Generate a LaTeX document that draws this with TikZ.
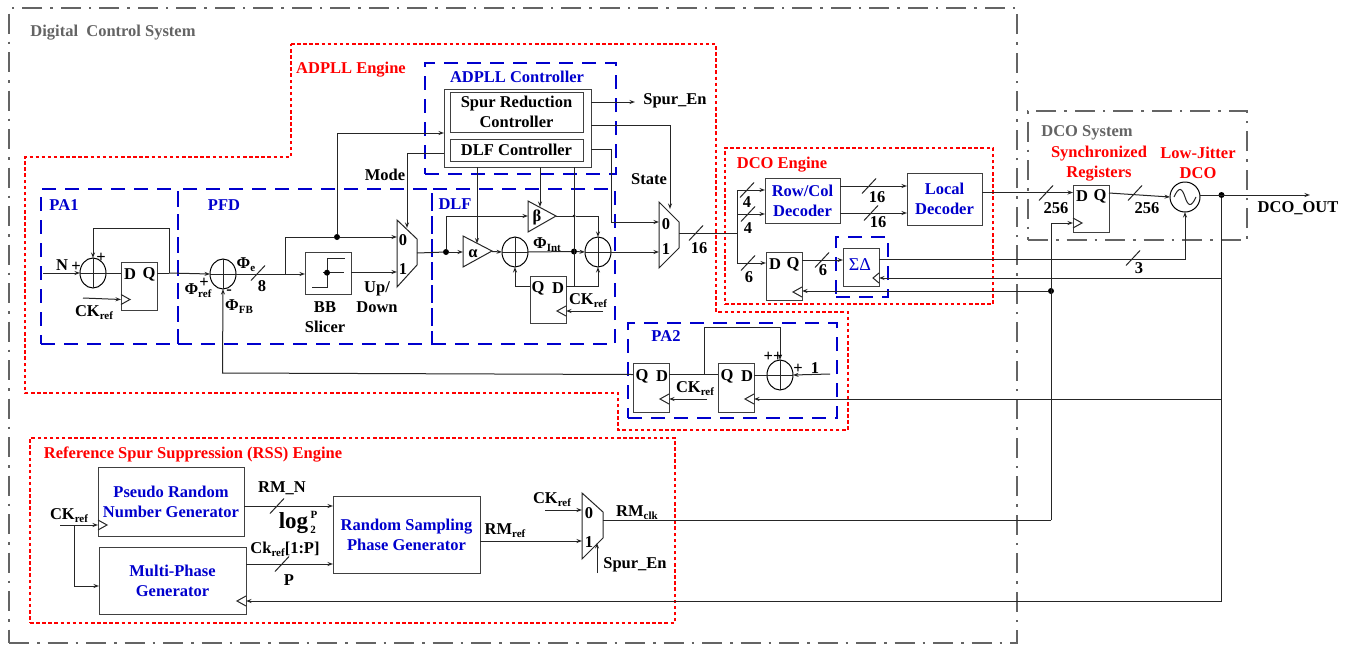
\documentclass[tikz,border=0pt]{standalone}
\usepackage{fontspec}
\setmainfont{Liberation Serif}
\usetikzlibrary{arrows.meta,shapes.geometric,calc}
\definecolor{rd}{RGB}{255,0,0}
\definecolor{bl}{RGB}{0,0,205}
\definecolor{gy}{RGB}{100,100,100}
\newcommand{\sbs}[1]{\raisebox{-3.5pt}{\fontsize{11}{11}\selectfont #1}}
\newcommand{\blk}[6]{% name x0 y0 x1 y1 text
  \node[blockbox,minimum width={(#4-#2)*1pt},minimum height={(#5-#3)*1pt}] (#1) at ({(#2+#4)/2},{(#3+#5)/2}) {#6};}
\newcommand{\frm}[7]{% name style x0 y0 x1 y1
  \node[#2,minimum width={(#5-#3)*1pt},minimum height={(#6-#4)*1pt}] (#1) at ({(#3+#5)/2},{(#4+#6)/2}) {#7};}
\newcommand{\sumn}[3]{%
  \node[sumnode] (#1) at (#2,#3) {};
  \draw[wire] (#1.north) -- (#1.south) (#1.west) -- (#1.east);}
\newcommand{\lab}[5][black]{\node[textlabel,text=#1] (#2) at (#3,#4) {#5};}
\newcommand{\slashm}[3]{\coordinate (#1) at (#2,#3); \draw[wire] ($(#1)+(-7,7.5)$) -- ($(#1)+(7,-7.5)$);}
\newcommand{\clk}[4]{\coordinate (#1) at (#2,#3); \draw[wire] ($(#1)+(0,-5)$) -- ($(#1)+(#4,0)$) -- ($(#1)+(0,5)$);}
\tikzset{
  wire/.style={line width=1pt,black!85},
  arr/.style={wire,-{Stealth[length=5.5pt,width=4pt]}},
  blockbox/.style={draw=black!75,line width=1pt,inner sep=0pt,outer sep=0pt,align=center,font=\bfseries\fontsize{16.5}{20}\selectfont,text=bl},
  sumnode/.style={ellipse,draw=black,line width=1pt,minimum width=26pt,minimum height=30pt,inner sep=0pt,outer sep=0pt},
  textlabel/.style={inner sep=0pt,outer sep=0pt,align=center,yshift=-1.5pt,font=\bfseries\fontsize{16.5}{20}\selectfont},
  blueframe/.style={draw=bl,line width=2.5pt,dash pattern=on 14pt off 9pt,inner sep=0pt,outer sep=0pt},
  redframe/.style={draw=rd,line width=2.5pt,dash pattern=on 3.5pt off 2.6pt,inner sep=0pt,outer sep=0pt},
  grayframe/.style={draw=gy,line width=2.5pt,dash pattern=on 20pt off 8pt on 2.5pt off 8pt,inner sep=0pt,outer sep=0pt},
  dotn/.style={circle,fill=black,minimum size=6pt,inner sep=0pt,outer sep=0pt},
  smalldot/.style={circle,fill=black,minimum size=3pt,inner sep=0pt,outer sep=0pt},
}
\begin{document}
\begin{tikzpicture}[x=1pt,y=-1pt]
\useasboundingbox[fill=white] (0,0) rectangle (1353,646);
% frames
\frm{digital}{grayframe}{9}{8}{1017}{643}{}
\frm{dcosys}{grayframe}{1028}{111}{1247}{240}{}
\draw[redframe] (291,44) -- (716,44) -- (716,312) -- (848,312) -- (848,430) -- (618,430) -- (618,393) -- (25,393) -- (25,157) -- (291,157) -- cycle;
\frm{dcoeng}{redframe}{725}{148}{993}{304}{}
\frm{rss}{redframe}{30}{438}{675}{623}{}
\frm{pa1}{blueframe}{41}{189}{178}{344}{}
\frm{pfd}{blueframe}{178}{189}{432}{344}{}
\frm{dlf}{blueframe}{432}{189}{615}{344}{}
\frm{ctrlf}{blueframe}{425}{63}{616}{174}{}
\frm{pa2}{blueframe}{628}{323}{837}{418}{}
\frm{sdf}{blueframe}{836}{237}{888}{297}{}
% frame titles
\lab[gy]{tdig}{113}{31}{Digital\ \ Control System}
\lab[rd]{tadpll}{351}{68}{ADPLL Engine}
\lab[bl]{tctrl}{517}{75}{ADPLL Controller}
\lab[bl]{tpa1}{64}{204}{PA1}
\lab[bl]{tpfd}{224}{204}{PFD}
\lab[bl]{tdlf}{455}{203}{DLF}
\lab[bl]{tpa2}{666}{335}{PA2}
\lab[rd]{tdcoe}{782}{163}{DCO Engine}
\lab[gy]{tdcos}{1087}{131}{DCO System}
\lab[rd]{tsync}{1099}{162}{Synchronized\\Registers}
\lab[rd]{tlow}{1198}{161}{Low-Jitter\\DCO}
\lab[rd]{trss}{193}{453}{Reference Spur Suppression (RSS) Engine}
% PA1 / PFD blocks
\coordinate (nin) at (43,273);
\coordinate (ckin1) at (83,298);
\sumn{s1}{93}{273}
\blk{ff1}{121}{262}{157}{310}{}
\clk{ff1c}{121}{299.5}{9}
\lab{ff1d}{130}{273}{D}
\lab{ff1q}{149}{273}{Q}
\sumn{spfd}{223}{274}
\blk{slicer}{305}{252}{351}{294}{}
\draw[wire] (323,272.7) -- (344,272.7);
\draw[wire] (312,287) -- (327,287) -- (327,258) -- (345,258);
\node[dotn] (slicerdot) at (327,272.7) {};
\coordinate (m1i0) at (397,237);
\coordinate (m1i1) at (397,272);
\coordinate (m1o) at (417,253);
\coordinate (m1s) at (407,228);
\draw[wire] (397,220) -- (417,239) -- (417,265) -- (397,287) -- cycle;
\lab{m1l0}{403}{239}{0}
\lab{m1l1}{403}{268}{1}
\coordinate (b1) at (285,273.5);
\coordinate (b1u) at (285,237);
\node[dotn] (d1) at (337,237) {};
% connectors PA1/PFD
\draw[arr] (nin) -- (s1.west);
\draw[wire] (s1.east) -- (ff1.west |- s1.east);
\draw[arr] (ckin1) -- (ff1c);
\coordinate (j1) at (169,273);
\draw[wire] (ff1.east |- j1) -- (j1);
\draw[arr] (j1) -- (169,228) -- (93,228) -- (s1.north);
\draw[arr] (j1) -- (spfd.west);
\draw[arr] (spfd.east) -- (slicer.west |- spfd.east);
\draw[wire] (b1) -- (b1u) -- (d1);
\draw[arr] (d1) -- (m1i0);
\draw[arr] (slicer.east |- m1i1) -- (m1i1);
\slashm{sl8}{258}{273}
% Controller
\blk{ctrl}{444}{89}{591}{167}{}
\blk{srctrl}{450}{92}{583}{132}{\textcolor{black}{Spur Reduction}\\\textcolor{black}{Controller}}
\blk{dlfctrl}{450}{139}{583}{161}{\textcolor{black}{DLF Controller}}
\draw[arr] (d1) -- (337,133) -- (ctrl.west |- 0,133);
\coordinate (modeturn) at (407,153);
\draw[wire] (ctrl.west |- modeturn) -- (modeturn);
\draw[arr] (modeturn) -- (m1s);
\lab{lmode}{385}{173}{Mode}
% DLF
\node[dotn] (d2) at (446,252) {};
\draw[wire] (463,236) -- (492,251) -- (463,267) -- cycle;
\draw[wire] (528,201) -- (556,216) -- (528,232) -- cycle;
\coordinate (alphain) at (463,252);
\coordinate (alphaout) at (492,251.5);
\coordinate (alphatop) at (477,243.5);
\coordinate (betain) at (528,216);
\coordinate (betaout) at (556,216);
\coordinate (betatop) at (540,207);
\lab{lalpha}{473}{252}{α}
\lab{lbeta}{537}{216}{β}
\sumn{s2}{515}{252}
\sumn{s3}{598}{252}
\node[dotn] (d3) at (574,251.5) {};
\node[smalldot] (d4) at (574,216) {};
\blk{ff3}{530}{276}{566}{323}{}
\clk{ff3c}{566}{311}{-9}
\lab{ff3q}{538}{287}{Q}
\lab{ff3d}{558}{287}{D}
\lab{lck3}{588}{299}{CK\sbs{ref}}
\lab{lphiint}{547}{243}{Φ\sbs{Int}}
% mux2
\draw[wire] (659,202) -- (679,222) -- (679,248) -- (659,268) -- cycle;
\coordinate (m2i0) at (659,222);
\coordinate (m2i1) at (659,252);
\coordinate (m2o) at (679,233);
\coordinate (m2s) at (670,209);
\lab{m2l0}{666}{223}{0}
\lab{m2l1}{666}{248}{1}
\lab{lstate}{649}{178}{State}
\coordinate (spurout) at (635,102);
\lab{lspuren}{675}{99}{Spur\_En}
\lab{l16m}{699}{247}{16}
% connectors DLF
\draw[wire] (m1o) -- (d2);
\draw[arr] (d2) -- (alphain);
\draw[arr] (d2) -- (446,216) -- (betain);
\draw[arr] (alphaout) -- (s2.west);
\draw[wire] (s2.east) -- (d3);
\draw[arr] (d3) -- (s3.west);
\draw[wire] (betaout) -- (d4);
\draw[arr] (d4) -- (598,216) -- (s3.north);
\draw[arr] (477,167) -- (alphatop);
\draw[arr] (540,167) -- (betatop);
\draw[wire] (574,167) -- (574,286);
\coordinate (ff3dp) at (566,286);
\coordinate (ff3qp) at (530,286);
\draw[arr] (ff3qp) -- (515,286) -- (s2.south);
\draw[arr] (ff3dp) -- (598,286) -- (s3.south);
\draw[arr] (603,311) -- (ff3.east |- 0,311);
\draw[arr] (s3.east) -- (m2i1);
\draw[arr] (ctrl.east |- 0,149) -- (611,149) -- (611,222) -- (m2i0);
\draw[arr] (ctrl.east |- 0,102) -- (spurout);
\draw[arr] (ctrl.east |- 0,125) -- (670,125) -- (m2s);
\slashm{sl16m}{696}{233}
% plain labels PA1 / PFD
\lab{ln}{62}{264}{N}
\lab{lnp}{76}{265}{+}
\lab{lsp}{101}{256}{+}
\lab{lck1}{94}{311}{CK\sbs{ref}}
\lab{lphiref}{198}{289}{Φ\sbs{ref}}
\lab{lphip}{204}{281}{+}
\lab{lminus}{229}{291}{-}
\lab{lphifb}{239}{305}{Φ\sbs{FB}}
\lab{lphie}{246}{263}{Φ\sbs{e}}
\lab{l8}{262}{285}{8}
\lab{lbb}{325}{316}{BB\\Slicer}
\lab{lupd}{377}{296}{Up/\hspace{17pt}\\Down}
% DCO engine
\blk{rowcol}{765}{178}{840}{223}{Row/Col\\Decoder}
\blk{local}{907}{173}{982}{225}{Local\\Decoder}
\blk{ff4}{766}{252}{802}{300}{}
\clk{ff4c}{802}{292}{-9}
\lab{ff4d}{775}{263}{D}
\lab{ff4q}{793}{263}{Q}
\blk{sd}{843}{248}{879}{286}{}
\node[inner sep=0pt,text=bl,font=\fontsize{18}{18}\selectfont] (sdt) at (860,265) {ΣΔ};
\clk{sdc}{879}{278}{-6}
\coordinate (bus) at (737,233);
\draw[wire] (m2o) -- (bus);
\draw[arr] (bus) -- (737,190) -- (rowcol.west |- 0,190);
\draw[arr] (737,214) -- (rowcol.west |- 0,214);
\draw[arr] (bus) -- (737,263) -- (ff4.west |- 0,263);
\draw[arr] (rowcol.east |- 0,186) -- (local.west |- 0,186);
\draw[arr] (rowcol.east |- 0,213) -- (local.west |- 0,213);
\draw[arr] (ff4.east |- 0,260) -- (sd.west |- 0,260);
\slashm{sl4a}{747}{190}
\slashm{sl4b}{748}{214}
\slashm{sl6a}{748}{263}
\slashm{sl16a}{869}{186}
\slashm{sl16b}{871}{213}
\slashm{sl6b}{822}{260}
\lab{l4a}{747}{201}{4}
\lab{l4b}{748}{227}{4}
\lab{l6a}{749}{276}{6}
\lab{l16a}{877}{196}{16}
\lab{l16b}{878}{221}{16}
\lab{l6b}{823}{269}{6}
% DCO system
\blk{ffs}{1073}{185}{1109}{232}{}
\clk{ffsc}{1073}{223}{9}
\lab{ffsd}{1082}{195}{D}
\lab{ffsq}{1100}{195}{Q}
\node[circle,draw=black,line width=1pt,minimum size=30pt,inner sep=0pt,outer sep=0pt] (dco) at (1185,197) {};
\draw[wire] (1174,197) .. controls (1179,186) and (1182,188) .. (1185,197) .. controls (1188,206) and (1191,208) .. (1196,197);
\node[dotn] (d5) at (1221.5,195) {};
\node[dotn] (d6) at (1051,291) {};
\coordinate (dcoout) at (1310,195);
\coordinate (rmend) at (1051,520);
\draw[arr] (local.east |- 0,192.5) -- (ffs.west |- 0,192.5);
\draw[arr] (ffs.east |- 0,193) -- (dco.west);
\draw[arr] (dco.east |- 0,195) -- (dcoout);
\draw[arr] (sd.east |- 0,259) -- (1185,259) -- (dco.south);
\draw[wire] (d5) -- (1221.5,601);
\draw[arr] (1221.5,278) -- (sd.east |- 0,278);
\draw[arr] (d6) -- (ff4.east |- d6);
\draw[arr] (rmend) -- (1051,223) -- (ffsc);
\slashm{sl256a}{1046}{193}
\slashm{sl256b}{1135}{193}
\slashm{sl3}{1133}{258}
\lab{l256a}{1056}{207}{256}
\lab{l256b}{1147}{207}{256}
\lab{l3}{1139}{267}{3}
\lab{ldcoout}{1298}{207}{DCO\_OUT}
% PA2
\blk{ffa}{633}{363}{669}{412}{}
\blk{ffb}{718}{363}{754}{412}{}
\clk{ffac}{669}{399}{-9}
\clk{ffbc}{754}{399}{-9}
\sumn{s4}{780}{375}
\coordinate (one) at (830,374);
\coordinate (j2) at (704,374);
\draw[arr] (one) -- (s4.east);
\draw[wire] (ffb.east |- s4.west) -- (s4.west);
\draw[wire] (ffa.east |- j2) -- (ffb.west |- j2);
\draw[arr] (j2) -- (704,327) -- (780,327) -- (s4.north);
\draw[arr] (ffa.west |- 0,374.5) -- (222.5,373) -- (spfd.south);
\draw[arr] (707,399) -- (ffa.east |- 0,399);
\draw[arr] (1221.5,399) -- (ffb.east |- 0,399);
\lab{ffaq}{642}{375}{Q}
\lab{ffad}{662}{375}{D}
\lab{ffbq}{727}{375}{Q}
\lab{ffbd}{747}{375}{D}
\lab{lck2}{695}{387}{CK\sbs{ref}}
\lab{l1}{815}{367}{1}
\lab{lpp}{773}{355}{++}
\lab{lp2}{798}{367}{+}
% RSS
\blk{prng}{98}{467}{244}{536}{Pseudo Random\\Number Generator}
\blk{multi}{99}{547}{246}{614}{Multi-Phase\\Generator}
\blk{rs}{333}{496}{480}{573}{Random Sampling\\Phase Generator}
\clk{prngc}{98}{525}{9}
\clk{multic}{246}{601}{-9}
\coordinate (ckrss) at (60,525);
\coordinate (j3) at (74,525);
\draw[arr] (ckrss) -- (prngc);
\draw[arr] (j3) -- (74,586) -- (multi.west |- 0,586);
\draw[arr] (prng.east |- 0,506) -- (rs.west |- 0,506);
\draw[arr] (multi.east |- 0,564) -- (rs.west |- 0,564);
\draw[arr] (1221.5,601) -- (multi.east |- 0,601);
\slashm{sl5}{277}{506}
\slashm{sl6}{282}{564}
\lab{lck4}{69}{514}{CK\sbs{ref}}
\lab{lrmn}{282}{487}{RM\_N}
\node[textlabel,font=\bfseries\fontsize{23}{23}\selectfont] (llog) at (293.5,522) {log};
\node[textlabel,font=\bfseries\fontsize{11}{11}\selectfont] (llog2) at (313,528) {2};
\node[textlabel,font=\bfseries\fontsize{11}{11}\selectfont] (llogp) at (314,513) {P};
\lab{lckp}{285}{548}{Ck\sbs{ref}[1:P]}
\lab{lp}{289}{579}{P}
\draw[wire] (582,493) -- (603,512) -- (603,538) -- (582,559) -- cycle;
\coordinate (m3i0) at (582,510);
\coordinate (m3i1) at (582,541);
\coordinate (m3o) at (603,520);
\coordinate (m3s) at (597,543);
\draw[arr] (rs.east |- m3i1) -- (m3i1);
\draw[arr] (545,510) -- (m3i0);
\draw[arr] (597,573) -- (m3s);
\draw[wire] (m3o) -- (rmend);
\lab{m3l0}{589}{512}{0}
\lab{m3l1}{589}{541}{1}
\lab{lck5}{552}{498}{CK\sbs{ref}}
\lab{lrmref}{505}{529}{RM\sbs{ref}}
\lab{lrmclk}{637}{511}{RM\sbs{clk}}
\lab{lspur3}{635}{563}{Spur\_En}
\end{tikzpicture}
\end{document}
